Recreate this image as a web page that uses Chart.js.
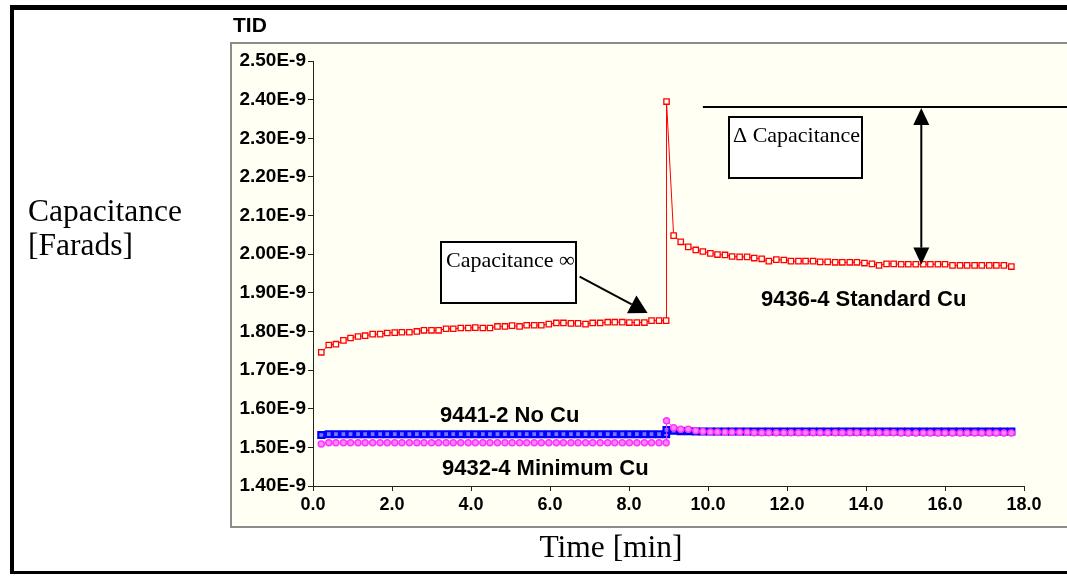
<!DOCTYPE html>
<html>
<head>
<meta charset="utf-8">
<title>TID capacitance</title>
<script src="https://cdn.jsdelivr.net/npm/chart.js@4/dist/chart.umd.min.js"></script>
<style>
  html, body { margin: 0; padding: 0; background: #fff; }
  #wrap { width: 1067px; height: 576px; }
</style>
</head>
<body>
<div id="wrap"><canvas id="tidChart" width="1067" height="576"></canvas></div>
<script>
/* =========================
   Data (capacitance in units of 1E-9 F, time in minutes)
   ========================= */

const timeBefore = [0.21, 0.40, 0.58, 0.77, 0.95, 1.14, 1.32, 1.51, 1.70, 1.88, 2.07, 2.25,
  2.44, 2.63, 2.81, 3.00, 3.18, 3.37, 3.55, 3.74, 3.93, 4.11, 4.30, 4.48, 4.67, 4.86, 5.04,
  5.23, 5.41, 5.60, 5.78, 5.97, 6.16, 6.34, 6.53, 6.71, 6.90, 7.08, 7.27, 7.46, 7.64, 7.83,
  8.01, 8.20, 8.39, 8.57, 8.76, 8.94];
const jumpTime = 8.95;
const timeAfter = [9.13, 9.31, 9.50, 9.69, 9.87, 10.06, 10.24, 10.43, 10.61, 10.80, 10.99,
  11.17, 11.36, 11.54, 11.73, 11.92, 12.10, 12.29, 12.47, 12.66, 12.84, 13.03, 13.22, 13.40,
  13.59, 13.77, 13.96, 14.15, 14.33, 14.52, 14.70, 14.89, 15.07, 15.26, 15.45, 15.63, 15.82,
  16.00, 16.19, 16.38, 16.56, 16.75, 16.93, 17.12, 17.30, 17.49, 17.68];

// 9436-4 Standard Cu
const stdCuBefore = [1.746, 1.765, 1.767, 1.777, 1.783, 1.787, 1.789, 1.793, 1.793, 1.796,
  1.797, 1.798, 1.798, 1.800, 1.803, 1.803, 1.803, 1.807, 1.807, 1.809, 1.809, 1.810, 1.809,
  1.809, 1.813, 1.813, 1.815, 1.813, 1.816, 1.816, 1.816, 1.819, 1.822, 1.822, 1.821, 1.821,
  1.819, 1.822, 1.822, 1.824, 1.824, 1.824, 1.823, 1.823, 1.823, 1.828, 1.828, 1.828];
const stdCuJump = 2.395;
const stdCuAfter = [2.048, 2.032, 2.019, 2.011, 2.007, 2.002, 1.999, 1.998, 1.994, 1.993,
  1.993, 1.990, 1.988, 1.982, 1.986, 1.985, 1.982, 1.982, 1.982, 1.982, 1.980, 1.980, 1.979,
  1.979, 1.979, 1.979, 1.977, 1.975, 1.971, 1.975, 1.975, 1.974, 1.974, 1.974, 1.974, 1.974,
  1.974, 1.974, 1.971, 1.971, 1.971, 1.971, 1.971, 1.971, 1.971, 1.971, 1.968];

// 9441-2 No Cu
const noCuBefore = [1.532, 1.534, 1.534, 1.534, 1.534, 1.534, 1.534, 1.534, 1.534, 1.534,
  1.534, 1.534, 1.534, 1.534, 1.534, 1.534, 1.534, 1.534, 1.534, 1.534, 1.534, 1.534, 1.534,
  1.534, 1.534, 1.534, 1.534, 1.534, 1.534, 1.534, 1.534, 1.534, 1.534, 1.534, 1.534, 1.534,
  1.534, 1.534, 1.534, 1.534, 1.534, 1.534, 1.534, 1.534, 1.534, 1.534, 1.534, 1.534];
const noCuJump = 1.545;
const noCuAfter = [1.543, 1.542, 1.542, 1.541, 1.541, 1.541, 1.541, 1.541, 1.541, 1.541,
  1.541, 1.541, 1.541, 1.541, 1.541, 1.541, 1.541, 1.541, 1.541, 1.541, 1.541, 1.541, 1.541,
  1.541, 1.541, 1.541, 1.541, 1.541, 1.541, 1.541, 1.541, 1.541, 1.541, 1.541, 1.541, 1.541,
  1.541, 1.541, 1.541, 1.541, 1.541, 1.541, 1.541, 1.541, 1.541, 1.541, 1.541];

// 9432-4 Minimum Cu
const minCuBefore = [1.509, 1.512, 1.512, 1.512, 1.512, 1.512, 1.512, 1.512, 1.512, 1.512,
  1.512, 1.512, 1.512, 1.512, 1.512, 1.512, 1.512, 1.512, 1.512, 1.512, 1.512, 1.512, 1.512,
  1.512, 1.512, 1.512, 1.512, 1.512, 1.512, 1.512, 1.512, 1.512, 1.512, 1.512, 1.512, 1.512,
  1.512, 1.512, 1.512, 1.512, 1.512, 1.512, 1.512, 1.512, 1.512, 1.512, 1.512, 1.512];
const minCuJump = 1.569;
const minCuAfter = [1.551, 1.547, 1.547, 1.543, 1.541, 1.540, 1.540, 1.539, 1.539, 1.539,
  1.539, 1.538, 1.538, 1.538, 1.538, 1.538, 1.538, 1.538, 1.538, 1.538, 1.538, 1.538, 1.538,
  1.538, 1.538, 1.538, 1.538, 1.538, 1.538, 1.538, 1.538, 1.537, 1.537, 1.537, 1.537, 1.537,
  1.537, 1.537, 1.537, 1.537, 1.537, 1.537, 1.537, 1.537, 1.537, 1.537, 1.537];

const xTicks = [0, 2, 4, 6, 8, 10, 12, 14, 16, 18];
const yMin = 1.40, yMax = 2.50, yStep = 0.10;

const seriesLabels = ['9436-4 Standard Cu', '9441-2 No Cu', '9432-4 Minimum Cu'];

function toPoints(before, jump, after) {
  const pts = timeBefore.map((t, i) => ({ x: t, y: before[i] }));
  pts.push({ x: jumpTime, y: jump });
  timeAfter.forEach((t, i) => pts.push({ x: t, y: after[i] }));
  return pts;
}

/* =========================
   Background, frame and annotations
   ========================= */

const SANS = "'Liberation Sans', Arial, sans-serif";
const SERIF = "'Liberation Serif', 'Times New Roman', serif";

const backdrop = {
  id: 'backdrop',
  beforeDraw(chart) {
    const c = chart.ctx;
    c.save();
    c.fillStyle = '#ffffff';
    c.fillRect(0, 0, chart.width, chart.height);
    // plot panel
    c.fillStyle = '#fffff4';
    c.fillRect(231, 43, 840, 484);
    c.strokeStyle = '#8c8c8c';
    c.lineWidth = 2;
    c.strokeRect(231, 43, 840, 484);
    // outer black frame
    c.fillStyle = '#000';
    c.fillRect(10, 5, 1057, 5);
    c.fillRect(10, 5, 4, 569);
    c.fillRect(10, 571, 1057, 3);
    c.restore();
  }
};

function arrowHead(c, x1, y1, x2, y2, len, half) {
  const a = Math.atan2(y2 - y1, x2 - x1);
  const bx = x2 - len * Math.cos(a), by = y2 - len * Math.sin(a);
  c.beginPath();
  c.moveTo(x2, y2);
  c.lineTo(bx + half * Math.sin(a), by - half * Math.cos(a));
  c.lineTo(bx - half * Math.sin(a), by + half * Math.cos(a));
  c.closePath();
  c.fill();
  return [bx, by];
}

const notes = {
  id: 'notes',
  afterDraw(chart) {
    const c = chart.ctx;
    const xs = chart.scales.x, ys = chart.scales.y;
    c.save();
    c.fillStyle = '#000';
    c.strokeStyle = '#000';
    c.textBaseline = 'alphabetic';

    // title
    c.font = 'bold 21px ' + SANS;
    c.fillText('TID', 233, 32);

    // axis titles
    c.font = '31.5px ' + SERIF;
    c.fillText('Capacitance', 28, 221);
    c.fillText('[Farads]', 28, 255);
    c.textAlign = 'center';
    c.fillText('Time [min]', 611, 557);
    c.textAlign = 'left';

    // series labels
    c.font = 'bold 22px ' + SANS;
    c.fillText(seriesLabels[0], 761, 306);
    c.fillText(seriesLabels[1], 440, 422);
    c.fillText(seriesLabels[2], 442, 475);

    // boxes
    c.lineWidth = 2;
    c.fillStyle = '#fff';
    c.fillRect(441, 242, 135, 61);
    c.strokeRect(441, 242, 135, 61);
    c.fillRect(729, 117, 133, 61);
    c.strokeRect(729, 117, 133, 61);
    c.fillStyle = '#000';
    c.font = '22px ' + SERIF;
    c.fillText('Capacitance \u221E', 446, 267);
    c.fillText('\u0394 Capacitance', 733, 142);

    // arrow to the settled value before the jump
    let x1 = xs.getPixelForValue(6.75), y1 = ys.getPixelForValue(1.942);
    let x2 = xs.getPixelForValue(8.47), y2 = ys.getPixelForValue(1.848);
    let base = arrowHead(c, x1, y1, x2, y2, 18, 10);
    c.beginPath();
    c.moveTo(x1, y1);
    c.lineTo(base[0], base[1]);
    c.stroke();

    // delta capacitance marker
    const hy = ys.getPixelForValue(2.381);
    c.beginPath();
    c.moveTo(xs.getPixelForValue(9.87), hy);
    c.lineTo(chart.width, hy);
    c.stroke();
    const ax = xs.getPixelForValue(15.4);
    const by2 = ys.getPixelForValue(1.973);
    const top = arrowHead(c, ax, by2, ax, hy + 1, 17, 8);
    const bot = arrowHead(c, ax, hy, ax, by2, 17, 8);
    c.beginPath();
    c.moveTo(ax, top[1]);
    c.lineTo(ax, bot[1]);
    c.stroke();
    c.restore();
  }
};

/* =========================
   Chart
   ========================= */

new Chart(document.getElementById('tidChart'), {
  type: 'line',
  data: {
    datasets: [
      {
        label: seriesLabels[2],
        data: toPoints(minCuBefore, minCuJump, minCuAfter),
        borderColor: '#ff33ff',
        borderWidth: 1,
        pointStyle: 'circle',
        pointRadius: 3,
        pointBorderWidth: 1.5,
        pointBackgroundColor: '#ff88ff',
        pointBorderColor: '#ff33ff'
      },
      {
        label: seriesLabels[1],
        data: toPoints(noCuBefore, noCuJump, noCuAfter),
        borderColor: '#0000ff',
        borderWidth: 1,
        pointStyle: 'rect',
        pointRadius: 4.2,
        pointBorderWidth: 2.2,
        pointBackgroundColor: '#7777ff',
        pointBorderColor: '#0000ff'
      },
      {
        label: seriesLabels[0],
        data: toPoints(stdCuBefore, stdCuJump, stdCuAfter),
        borderColor: '#ff0000',
        borderWidth: 1,
        pointStyle: 'rect',
        pointRadius: 3.8,
        pointBorderWidth: 1.3,
        pointBackgroundColor: '#fffff4',
        pointBorderColor: '#ff0000'
      }
    ]
  },
  options: {
    responsive: false,
    animation: false,
    layout: { padding: { left: 0, right: 43, top: 61, bottom: 0 } },
    plugins: {
      legend: { display: false },
      tooltip: { enabled: false },
      title: { display: false }
    },
    scales: {
      x: {
        type: 'linear',
        min: 0,
        max: 18,
        afterFit: (scale) => { scale.height = 90; },
        afterBuildTicks: (scale) => { scale.ticks = xTicks.map(v => ({ value: v })); },
        border: { color: '#222', width: 1 },
        grid: { drawOnChartArea: false, color: '#222', tickLength: 5 },
        ticks: {
          color: '#000',
          font: { family: SANS, size: 18, weight: 'bold' },
          padding: 3,
          maxRotation: 0,
          callback: (v) => Number(v).toFixed(1)
        }
      },
      y: {
        type: 'linear',
        min: yMin,
        max: yMax,
        afterFit: (scale) => { scale.width = 313; },
        border: { color: '#222', width: 1 },
        grid: { drawOnChartArea: false, color: '#222', tickLength: 5 },
        ticks: {
          color: '#000',
          font: { family: SANS, size: 19, weight: 'bold' },
          padding: 2,
          stepSize: yStep,
          callback: (v) => Number(v).toFixed(2) + 'E-9'
        }
      }
    }
  },
  plugins: [backdrop, notes]
});
</script>
</body>
</html>
